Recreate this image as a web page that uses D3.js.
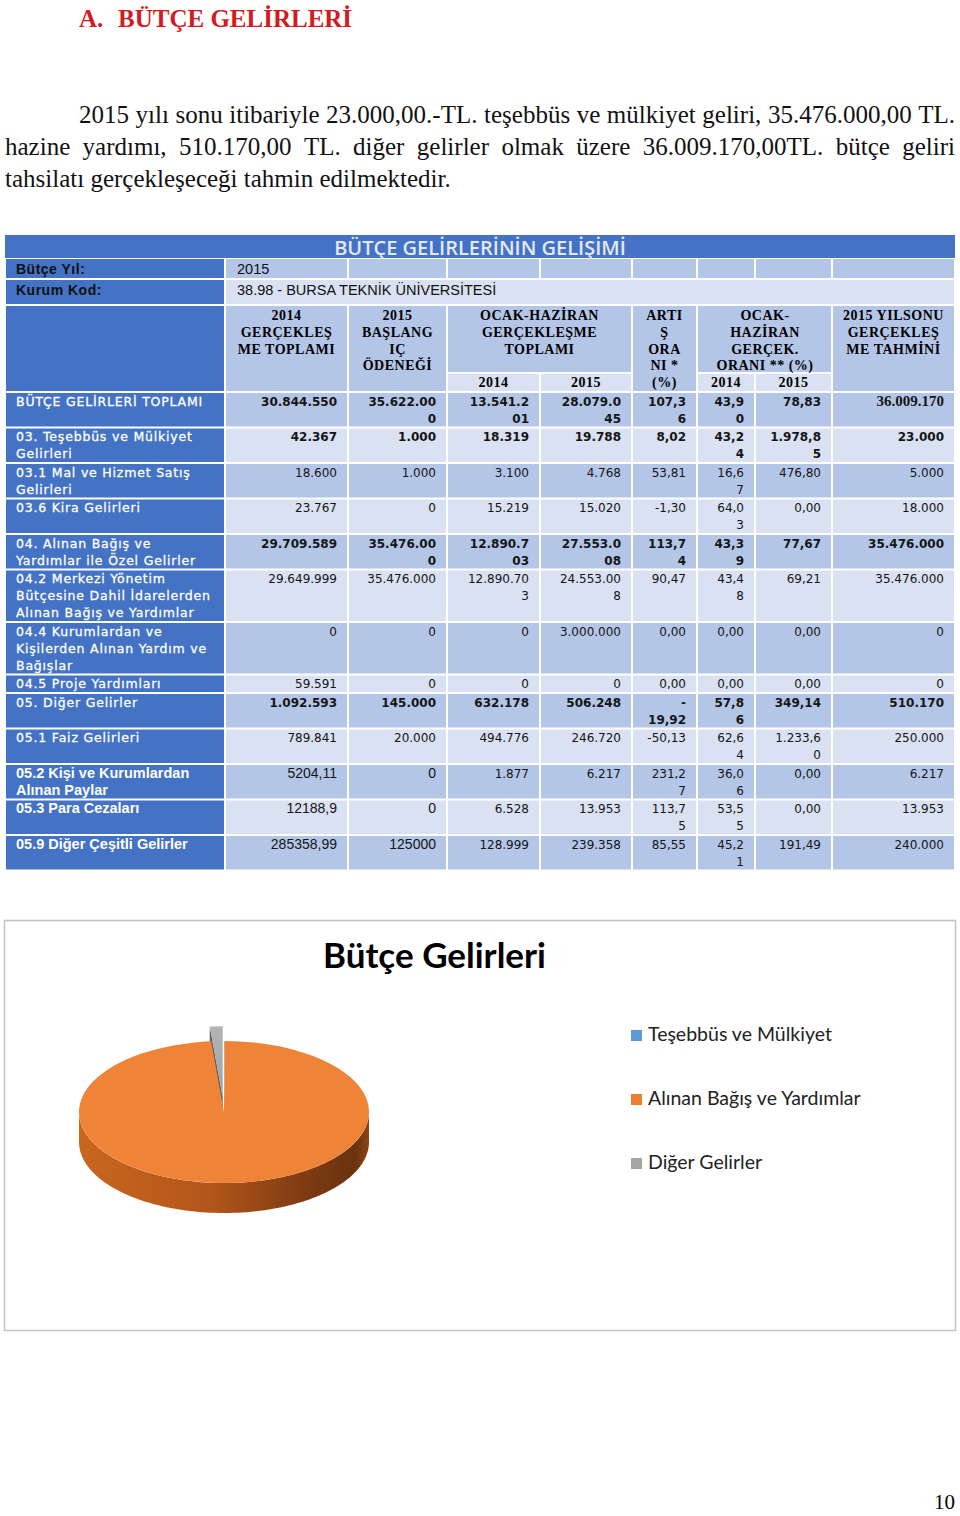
<!DOCTYPE html>
<html><head><meta charset="utf-8">
<script src="https://cdn.jsdelivr.net/npm/d3@7"></script>
<style>
html,body{margin:0;padding:0;background:#fff;}
svg{display:block;}
</style></head>
<body>
<svg id="page" width="960" height="1516"></svg>
<script>
// ================= DATA =================
const headingText = ["A.", "BÜTÇE GELİRLERİ"];
const paragraphLines = [
  "2015 yılı sonu itibariyle 23.000,00.-TL. teşebbüs ve mülkiyet geliri, 35.476.000,00 TL.",
  "hazine yardımı, 510.170,00 TL. diğer gelirler olmak üzere 36.009.170,00TL. bütçe geliri",
  "tahsilatı gerçekleşeceği tahmin edilmektedir."
];
const tableTitle = "BÜTÇE GELİRLERİNİN GELİŞİMİ";
const infoLabels = ["Bütçe Yıl:", "Kurum Kod:"];
const infoValues = ["2015", "38.98 - BURSA TEKNİK ÜNİVERSİTESİ"];
const colHeaders = [
  ["2014", "GERÇEKLEŞ", "ME TOPLAMI"],
  ["2015", "BAŞLANG", "IÇ", "ÖDENEĞİ"],
  ["OCAK-HAZİRAN", "GERÇEKLEŞME", "TOPLAMI"],
  ["ARTI", "Ş", "ORA", "NI *", "(%)"],
  ["OCAK-", "HAZİRAN", "GERÇEK.", "ORANI ** (%)"],
  ["2015 YILSONU", "GERÇEKLEŞ", "ME TAHMİNİ"]
];
const subHeaders = ["2014", "2015"];

const rowLabels = [
  "BÜTÇE GELİRLERİ TOPLAMI",
  "03. Teşebbüs ve Mülkiyet Gelirleri",
  "03.1 Mal ve Hizmet Satış Gelirleri",
  "03.6 Kira Gelirleri",
  "04. Alınan Bağış ve Yardımlar ile Özel Gelirler",
  "04.2 Merkezi Yönetim Bütçesine Dahil İdarelerden Alınan Bağış ve Yardımlar",
  "04.4 Kurumlardan ve Kişilerden Alınan Yardım ve Bağışlar",
  "04.5 Proje Yardımları",
  "05. Diğer Gelirler",
  "05.1 Faiz Gelirleri",
  "05.2 Kişi ve Kurumlardan Alınan Paylar",
  "05.3 Para Cezaları",
  "05.9 Diğer Çeşitli Gelirler"
];
const gercek2014      = ["30.844.550","42.367","18.600","23.767","29.709.589","29.649.999","0","59.591","1.092.593","789.841","5204,11","12188,9","285358,99"];
const baslangic2015   = ["35.622.000","1.000","1.000","0","35.476.000","35.476.000","0","0","145.000","20.000","0","0","125000"];
const ocakHaziran2014 = ["13.541.201","18.319","3.100","15.219","12.890.703","12.890.703","0","0","632.178","494.776","1.877","6.528","128.999"];
const ocakHaziran2015 = ["28.079.045","19.788","4.768","15.020","27.553.008","24.553.008","3.000.000","0","506.248","246.720","6.217","13.953","239.358"];
const artisOrani      = ["107,36","8,02","53,81","-1,30","113,74","90,47","0,00","0,00","-19,92","-50,13","231,27","113,75","85,55"];
const gercOrani2014   = ["43,90","43,24","16,67","64,03","43,39","43,48","0,00","0,00","57,86","62,64","36,06","53,55","45,21"];
const gercOrani2015   = ["78,83","1.978,85","476,80","0,00","77,67","69,21","0,00","0,00","349,14","1.233,60","0,00","0,00","191,49"];
const yilsonuTahmin   = ["36.009.170","23.000","5.000","18.000","35.476.000","35.476.000","0","0","510.170","250.000","6.217","13.953","240.000"];

const chartTitle = "Bütçe Gelirleri";
const pieLabels = ["Teşebbüs ve Mülkiyet", "Alınan Bağış ve Yardımlar", "Diğer Gelirler"];
const pieValues = [23000, 35476000, 510170];
const pageNumber = "10";

// ================= STYLE / LAYOUT =================
const svg = d3.select("#page");
const BLUE = "#4472c4", MID = "#b4c6e7", LIGHT = "#d9e1f2";
const pieColors = ["#5b9bd5", "#ed7d31", "#a5a5a5"];
const rowBold  = [1,1,0,0,1,0,0,0,1,0,0,0,0];
const rowArial = [0,0,0,0,0,0,0,0,0,0,1,1,1];

const F = {
  para:   {family:"Liberation Serif", size:25},
  head:   {family:"Liberation Serif", size:25, weight:"bold"},
  numReg: {family:"DejaVu Sans", size:12},
  numBold:{family:"DejaVu Sans", size:12, weight:"bold"},
  arial:  {family:"Liberation Sans", size:14},
  arialB: {family:"Liberation Sans", size:14.5, weight:"bold"},
  label:  {family:"DejaVu Sans", size:12.5, ls:0.8},
  hdr:    {family:"Liberation Serif", size:14, weight:"bold", ls:0.5},
  timesB: {family:"Liberation Serif", size:15, weight:"bold"},
  info:   {family:"Liberation Sans", size:14, weight:"bold", ls:0.5},
  infoV:  {family:"Liberation Sans", size:14.5},
  title:  {family:"Open Sans", size:20, weight:600},
};

function applyFont(sel, f) {
  sel.attr("font-family", f.family).attr("font-size", f.size).attr("font-weight", f.weight || "normal");
  if (f.ls) sel.attr("letter-spacing", f.ls);
  return sel;
}
const measurer = svg.append("text").attr("x", -2000).attr("y", -2000);
function measure(str, f) {
  applyFont(measurer, f).attr("letter-spacing", f.ls || 0).text(str);
  return measurer.node().getComputedTextLength();
}
function wordWrap(str, f, maxW) {
  const words = str.split(" ");
  const lines = [];
  let cur = "";
  words.forEach(w => {
    const test = cur ? cur + " " + w : w;
    if (cur && measure(test, f) > maxW) { lines.push(cur); cur = w; }
    else cur = test;
  });
  if (cur) lines.push(cur);
  return lines;
}
function charWrap(str, f, maxW) {
  if (measure(str, f) <= maxW) return [str];
  const h = str.indexOf("-");
  if (h >= 0 && h < str.length - 1) {
    const a = str.slice(0, h + 1);
    if (measure(a, f) <= maxW) return [a, ...charWrap(str.slice(h + 1), f, maxW)];
  }
  let i = str.length - 1;
  while (i > 1 && measure(str.slice(0, i), f) > maxW) i--;
  return [str.slice(0, i), ...charWrap(str.slice(i), f, maxW)];
}

// ================= HEADING + PARAGRAPH =================
const hd = applyFont(svg.append("text").attr("x", 79).attr("y", 27).attr("fill", "#d41a21"), F.head);
hd.append("tspan").text(headingText[0] + " ");
hd.append("tspan").attr("x", 118).text(headingText[1]);

const pLayout = [{x0:79, x1:955, y:123, j:true}, {x0:5, x1:955, y:155, j:true}, {x0:5, x1:955, y:187, j:false}];
paragraphLines.forEach((line, i) => {
  const L = pLayout[i];
  const t = applyFont(svg.append("text").attr("y", L.y).attr("fill", "#111"), F.para);
  if (!L.j) { t.attr("x", L.x0).text(line); return; }
  const words = line.split(" ");
  const ws = words.map(w => measure(w, F.para));
  const gap = (L.x1 - L.x0 - d3.sum(ws)) / (words.length - 1);
  let x = L.x0;
  words.forEach((w, k) => {
    t.append("tspan").attr("x", x).text(w + (k < words.length - 1 ? " " : ""));
    x += ws[k] + gap;
  });
});

// ================= TABLE =================
const colEdges = [5, 225, 348, 447, 540, 632, 697, 755, 832, 955];
const xCol = d3.scaleOrdinal().domain(d3.range(colEdges.length)).range(colEdges);
const columns = [gercek2014, baslangic2015, ocakHaziran2014, ocakHaziran2015, artisOrani, gercOrani2014, gercOrani2015, yilsonuTahmin];
const wrapW = [100, 72, 64, 64, 40, 31, 52, 110];
const tg = svg.append("g");
function cellRect(x0, y0, x1, y1, fill) {
  tg.append("rect").attr("x", x0 + 1).attr("y", y0 + 1).attr("width", x1 - x0 - 2).attr("height", y1 - y0 - 2).attr("fill", fill);
}
function txt(x, y, s, f, fill, anchor) {
  return applyFont(tg.append("text").attr("x", x).attr("y", y).attr("fill", fill).attr("text-anchor", anchor || "start"), f).text(s);
}

// title row
tg.append("rect").attr("x", 5).attr("y", 235).attr("width", 950).attr("height", 23).attr("fill", BLUE);
txt(480, 255, tableTitle, F.title, "#e3e9f6", "middle");

// info rows
cellRect(xCol(0), 258, xCol(1), 279, BLUE);
for (let c = 1; c < 9; c++) cellRect(xCol(c), 258, xCol(c + 1), 279, MID);
cellRect(xCol(0), 279, xCol(1), 305, BLUE);
cellRect(xCol(1), 279, xCol(9), 305, LIGHT);
txt(16, 274, infoLabels[0], F.info, "#111");
txt(16, 295, infoLabels[1], F.info, "#111");
txt(237, 274, infoValues[0], F.infoV, "#111");
txt(237, 295, infoValues[1], F.infoV, "#111");

// header
const hTop = 305, hSub = 373, hBot = 392;
cellRect(xCol(0), hTop, xCol(1), hBot, BLUE);
const hdrCells = [
  {c0:1, c1:2, sub:false}, {c0:2, c1:3, sub:false}, {c0:3, c1:5, sub:true},
  {c0:5, c1:6, sub:false}, {c0:6, c1:8, sub:true, cx:765}, {c0:8, c1:9, sub:false}
];
hdrCells.forEach((h, i) => {
  cellRect(xCol(h.c0), hTop, xCol(h.c1), h.sub ? hSub : hBot, MID);
  const cx = h.cx || (xCol(h.c0) + xCol(h.c1)) / 2;
  colHeaders[i].forEach((ln, k) => txt(cx, 320 + k * 16.8, ln, F.hdr, "#000", "middle"));
  if (h.sub) {
    subHeaders.forEach((s, k) => {
      const a = xCol(h.c0 + k), b = xCol(h.c0 + k + 1);
      cellRect(a, hSub, b, hBot, LIGHT);
      txt((a + b) / 2, 387, s, F.hdr, "#000", "middle");
    });
  }
});

// data rows
function cellFont(r, c) {
  if (c === 7 && r === 0) return F.timesB;
  if (rowArial[r] && c < 2) return F.arial;
  return rowBold[r] ? F.numBold : F.numReg;
}
let y = hBot;
rowLabels.forEach((lab, r) => {
  const lf = rowArial[r] ? F.arialB : F.label;
  const labLines = wordWrap(lab, lf, 200);
  const cells = columns.map((col, c) => charWrap(col[r], cellFont(r, c), wrapW[c]));
  const n = Math.max(labLines.length, d3.max(cells, d => d.length));
  const h = 17 * n + 1.5;
  cellRect(xCol(0), y, xCol(1), y + h, BLUE);
  labLines.forEach((ln, k) => {
    const t = txt(16, y + 13.5 + 17 * k, ln, lf, "#ffffff");
    if (!rowArial[r]) t.attr("stroke", "#ffffff").attr("stroke-width", 0.3);
  });
  cells.forEach((lines, c) => {
    cellRect(xCol(c + 1), y, xCol(c + 2), y + h, r % 2 === 0 ? MID : LIGHT);
    lines.forEach((ln, k) => txt(xCol(c + 2) - 11, y + 13.5 + 17 * k, ln, cellFont(r, c), "#151515", "end"));
  });
  y += h;
});

// ================= PIE CHART =================
svg.append("rect").attr("x", 4.5).attr("y", 920.5).attr("width", 951).attr("height", 410)
  .attr("fill", "none").attr("stroke", "#c4c4c4").attr("stroke-width", 1.5);
applyFont(svg.append("text").attr("x", 323).attr("y", 968).attr("fill", "#000"), {family:"Lato", size:35, weight:"bold"}).text(chartTitle);

const defs = svg.append("defs");
const cx = 224, cy = 1112, rx = 145, ry = 71, depth = 30;
const explode = [0, 0, 30];
const sideGrad = defs.append("linearGradient").attr("id", "sideO").attr("gradientUnits", "userSpaceOnUse")
  .attr("x1", cx - rx).attr("x2", cx + rx).attr("y1", 0).attr("y2", 0);
[["0%", "#c9661f"], ["45%", "#b3561a"], ["80%", "#7a3a12"], ["95%", "#6a3210"], ["100%", "#8a4516"]]
  .forEach(s => sideGrad.append("stop").attr("offset", s[0]).attr("stop-color", s[1]));
const topGrad = defs.append("linearGradient").attr("id", "topO").attr("gradientUnits", "userSpaceOnUse")
  .attr("x1", 0).attr("x2", 0).attr("y1", cy - ry).attr("y2", cy + ry);
[["0%", "#ef8439"], ["100%", "#ea7426"]].forEach(s => topGrad.append("stop").attr("offset", s[0]).attr("stop-color", s[1]));
const grayGrad = defs.append("linearGradient").attr("id", "topG").attr("x1", 0).attr("x2", 0).attr("y1", 0).attr("y2", 1);
[["0%", "#b4b4b4"], ["100%", "#a0a0a0"]].forEach(s => grayGrad.append("stop").attr("offset", s[0]).attr("stop-color", s[1]));

const arcs = d3.pie().sort(null).value(d => d)(pieValues);
const k = ry / rx;
const arcGen = d3.arc().innerRadius(0).outerRadius(rx);
const line = d3.line();
const pg = svg.append("g");
function center(i) {
  const m = (arcs[i].startAngle + arcs[i].endAngle) / 2;
  return [cx + explode[i] * Math.sin(m), cy - explode[i] * Math.cos(m) * k];
}
function pt(c, a, dy) { return [c[0] + rx * Math.sin(a), c[1] - ry * Math.cos(a) + (dy || 0)]; }

// outer side walls (front half)
arcs.forEach((a, i) => {
  const s = Math.max(a.startAngle, Math.PI / 2), e = Math.min(a.endAngle, 3 * Math.PI / 2);
  if (e <= s) return;
  const c = center(i);
  const angs = d3.range(0, 101).map(t => s + (e - s) * t / 100);
  const pts = angs.map(an => pt(c, an)).concat(angs.slice().reverse().map(an => pt(c, an, depth)));
  pg.append("path").attr("d", line(pts) + "Z")
    .attr("fill", i === 1 ? "url(#sideO)" : d3.color(pieColors[i]).darker(1.2));
});
// visible cut face of exploded slice (start edge)
arcs.forEach((a, i) => {
  if (!explode[i]) return;
  const c = center(i);
  const o = pt(c, a.startAngle);
  const pts = [c, o, [o[0], o[1] + depth], [c[0], c[1] + depth]];
  pg.append("path").attr("d", line(pts) + "Z").attr("fill", "#5e5e5e");
});
// top faces
arcs.forEach((a, i) => {
  const c = center(i);
  pg.append("path")
    .attr("d", arcGen({startAngle: a.startAngle, endAngle: a.endAngle}))
    .attr("transform", `translate(${c[0]},${c[1]}) scale(1,${k})`)
    .attr("fill", i === 1 ? "url(#topO)" : i === 2 ? "url(#topG)" : pieColors[i]);
});

// legend
const lg = svg.append("g");
pieLabels.forEach((lab, i) => {
  const by = 1041 + i * 64;
  lg.append("rect").attr("x", 631).attr("y", by - 11).attr("width", 11).attr("height", 11).attr("fill", pieColors[i]);
  applyFont(lg.append("text").attr("x", 648).attr("y", by).attr("fill", "#222"), {family:"Lato", size:19.5}).text(lab);
});

// page number
applyFont(svg.append("text").attr("x", 955).attr("y", 1509).attr("text-anchor", "end").attr("fill", "#000"), {family:"Liberation Serif", size:21}).text(pageNumber);

measurer.remove();
</script>
</body></html>
